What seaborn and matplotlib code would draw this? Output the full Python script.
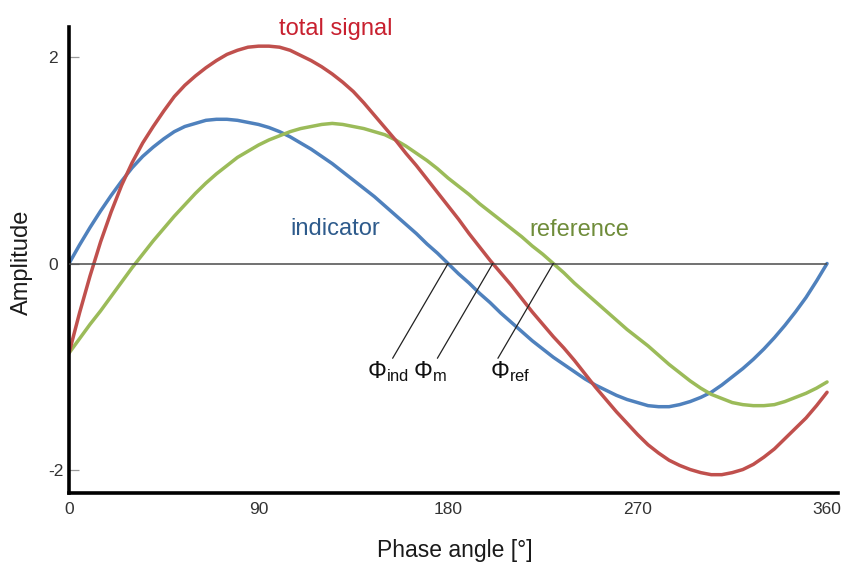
import numpy as np
import pandas as pd
import matplotlib
matplotlib.use("Agg")
import matplotlib.pyplot as plt
import seaborn as sns

# ---- data (every 5 degrees) ----
phase = list(range(0, 361, 5))
indicator = [0.00, 0.18, 0.35, 0.51, 0.66, 0.80, 0.93, 1.04, 1.13, 1.21,
             1.28, 1.33, 1.36, 1.39, 1.40, 1.40, 1.39, 1.37, 1.35, 1.32,
             1.28, 1.23, 1.17, 1.11, 1.04, 0.97, 0.89, 0.81, 0.73, 0.65,
             0.56, 0.47, 0.38, 0.29, 0.19, 0.10, 0.00, -0.10, -0.19, -0.29,
             -0.38, -0.48, -0.57, -0.66, -0.75, -0.83, -0.91, -0.98, -1.05, -1.12,
             -1.18, -1.23, -1.28, -1.32, -1.35, -1.38, -1.39, -1.39, -1.37, -1.34,
             -1.30, -1.25, -1.18, -1.10, -1.02, -0.93, -0.83, -0.72, -0.60, -0.47,
             -0.33, -0.17, 0.00]
total_signal = [-0.87, -0.48, -0.12, 0.21, 0.50, 0.76, 0.98, 1.17, 1.33, 1.48,
                1.62, 1.73, 1.82, 1.90, 1.97, 2.03, 2.07, 2.10, 2.11, 2.11,
                2.10, 2.07, 2.02, 1.97, 1.91, 1.84, 1.76, 1.67, 1.56, 1.44,
                1.32, 1.20, 1.07, 0.95, 0.82, 0.69, 0.56, 0.43, 0.29, 0.16,
                0.03, -0.09, -0.21, -0.34, -0.47, -0.59, -0.71, -0.82, -0.94, -1.07,
                -1.20, -1.32, -1.44, -1.55, -1.66, -1.76, -1.84, -1.91, -1.96, -2.00,
                -2.03, -2.05, -2.05, -2.03, -2.00, -1.95, -1.88, -1.80, -1.70, -1.60,
                -1.50, -1.38, -1.25]
reference = [-0.87, -0.73, -0.59, -0.46, -0.32, -0.18, -0.04, 0.09, 0.22, 0.34,
             0.46, 0.57, 0.68, 0.78, 0.87, 0.95, 1.03, 1.09, 1.15, 1.20,
             1.24, 1.28, 1.31, 1.33, 1.35, 1.36, 1.35, 1.33, 1.31, 1.28,
             1.25, 1.20, 1.14, 1.07, 1.00, 0.92, 0.83, 0.75, 0.67, 0.58,
             0.50, 0.42, 0.34, 0.26, 0.17, 0.09, 0.00, -0.09, -0.19, -0.28,
             -0.37, -0.46, -0.55, -0.64, -0.72, -0.80, -0.89, -0.98, -1.06, -1.14,
             -1.21, -1.27, -1.31, -1.35, -1.37, -1.38, -1.38, -1.37, -1.34, -1.30,
             -1.26, -1.21, -1.15]

series_names = ["indicator", "reference", "total signal"]
x_ticks = [0, 90, 180, 270, 360]
y_ticks = [-2, 0, 2]
phi_labels = [r"$\mathrm{\Phi}_{\mathrm{ind}}$", r"$\mathrm{\Phi}_{\mathrm{m}}$",
              r"$\mathrm{\Phi}_{\mathrm{ref}}$"]

# ---- styling ----
line_colors = {"indicator": "#4f81bd", "reference": "#9bbb59", "total signal": "#c0504d"}
text_colors = {"indicator": "#2e5b8c", "reference": "#6f8c3a", "total signal": "#c8202f"}

n = len(phase)
long = pd.DataFrame({
    "phase": phase * 3,
    "amplitude": indicator + reference + total_signal,
    "series": ["indicator"] * n + ["reference"] * n + ["total signal"] * n,
})

sns.set_theme(style="white")
plt.rcParams["font.family"] = ["Liberation Sans", "DejaVu Sans"]
plt.rcParams["mathtext.fontset"] = "custom"
plt.rcParams["mathtext.rm"] = "Liberation Sans"
plt.rcParams["mathtext.it"] = "Liberation Sans:italic"

fig = plt.figure(figsize=(8.42, 5.63), dpi=100)
ax = fig.add_axes([69 / 842, 1 - 492.5 / 563, 769 / 842, 465.5 / 563])

sns.lineplot(data=long, x="phase", y="amplitude", hue="series", hue_order=series_names,
             palette=line_colors, linewidth=2.5, legend=False, sort=False, ax=ax,
             solid_joinstyle="round", solid_capstyle="round")

ax.set_xlim(0, 365.2)
ax.set_ylim(-2.223, 2.296)

# zero reference line
ax.hlines(0, phase[0], phase[-1], color="#4a4a4a", linewidth=1.1, zorder=4)

# spines
for s in ["top", "right"]:
    ax.spines[s].set_visible(False)
for s in ["left", "bottom"]:
    ax.spines[s].set_color("black")
    ax.spines[s].set_linewidth(2.6)

ax.set_xticks(x_ticks)
ax.set_xticklabels([str(v) for v in x_ticks])
ax.set_yticks(y_ticks)
ax.set_yticklabels([str(v) for v in y_ticks])
ax.tick_params(axis="x", bottom=False, length=0, pad=7, labelsize=12.5, labelcolor="#333333")
ax.tick_params(axis="y", left=True, direction="in", length=7.5, width=0.9, color="#9a9a9a",
               pad=15, labelsize=12.5, labelcolor="#333333")
for lbl in ax.get_yticklabels():
    lbl.set_horizontalalignment("left")

ax.set_xlabel("Phase angle [°]", fontsize=16.5, color="#1a1a1a")
ax.xaxis.set_label_coords(0.502, -0.100)
ax.set_ylabel("Amplitude", fontsize=17, color="#1a1a1a")
ax.yaxis.set_label_coords(-0.047, 0.495)

# series names
ax.text(126.8, 2.218, "total signal", color=text_colors["total signal"], fontsize=17,
        ha="center", va="baseline", clip_on=False)
ax.text(126.3, 0.277, "indicator", color=text_colors["indicator"], fontsize=17,
        ha="center", va="baseline")
ax.text(242.2, 0.267, "reference", color=text_colors["reference"], fontsize=17,
        ha="center", va="baseline")

# phase markers: descending zero crossings
def falling_zero(xs, ys):
    xs = np.asarray(xs, float)
    ys = np.asarray(ys, float)
    for i in range(1, len(ys)):
        if ys[i - 1] > 0 >= ys[i]:
            return xs[i - 1] + (xs[i] - xs[i - 1]) * ys[i - 1] / (ys[i - 1] - ys[i])
    return None

crossings = [falling_zero(phase, indicator), falling_zero(phase, total_signal),
             falling_zero(phase, reference)]
label_left = [141.3, 163.3, 199.9]
for xc, lab, xl in zip(crossings, phi_labels, label_left):
    ax.plot([xc, xc - 26.3], [0, -0.92], color="#222222", linewidth=0.9, zorder=4)
    ax.text(xl, -1.11, lab, fontsize=17, color="#111111", ha="left", va="baseline")

fig.savefig("out.png", dpi=100)
